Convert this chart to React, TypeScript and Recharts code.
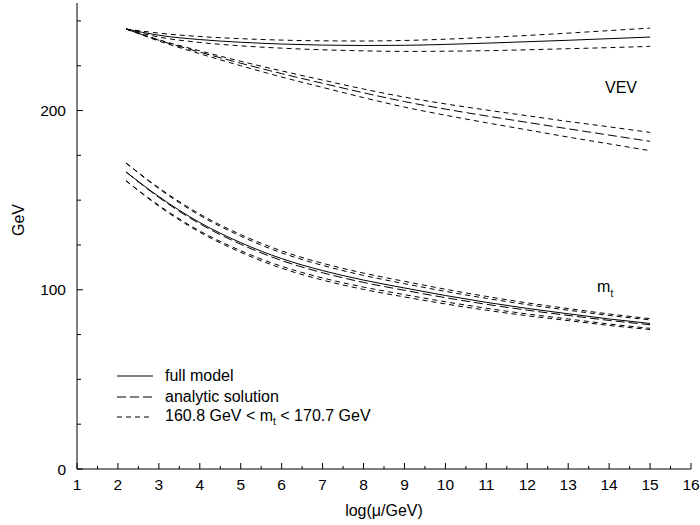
import { LineChart, Line, XAxis, YAxis, Legend, ReferenceDot, Label } from "recharts";

const FONT = "'Liberation Sans', Arial, Helvetica, sans-serif";

// log(mu/GeV) sample points
const logMu = [2.2, 3, 4, 5, 6, 7, 8, 9, 10, 11, 12, 13, 14, 15];

// VEV, full model and its m_t band
const vevFull = [245.5, 242.0, 239.6, 238.1, 237.1, 236.5, 236.3, 236.4, 236.9, 237.6, 238.4, 239.2, 240.1, 241.0];
const vevFullHi = [245.5, 243.2, 241.3, 240.1, 239.3, 238.9, 238.8, 239.1, 239.8, 240.8, 241.9, 243.2, 244.6, 246.0];
const vevFullLo = [245.5, 241.0, 238.0, 236.1, 234.8, 233.9, 233.3, 233.0, 233.1, 233.4, 233.9, 234.5, 235.1, 235.8];

// VEV, analytic solution and its m_t band
const vevAna = [245.5, 239.2, 232.6, 226.4, 220.6, 215.2, 209.9, 205.0, 200.8, 197.0, 193.4, 189.8, 186.3, 182.8];
const vevAnaHi = [245.5, 239.5, 233.3, 227.5, 222.1, 217.0, 212.0, 207.5, 203.7, 200.3, 197.1, 193.9, 190.9, 187.8];
const vevAnaLo = [245.5, 238.8, 231.7, 225.0, 218.7, 212.9, 207.2, 201.9, 197.4, 193.2, 189.2, 185.2, 181.4, 177.6];

// top mass
const mtFull = [165.7, 152.0, 137.5, 126.3, 117.4, 110.7, 105.4, 101.0, 96.8, 93.0, 89.6, 86.6, 83.7, 81.2];
const mtFullHi = [170.7, 156.9, 142.2, 130.8, 121.7, 114.8, 109.3, 104.7, 100.3, 96.3, 92.7, 89.5, 86.5, 83.9];
const mtFullLo = [160.8, 147.1, 132.8, 121.8, 113.1, 106.6, 101.5, 97.3, 93.3, 89.7, 86.5, 83.7, 80.9, 78.5];
const mtAna = [165.7, 151.5, 136.8, 125.4, 116.3, 109.5, 104.1, 99.7, 95.6, 91.9, 88.6, 85.7, 82.9, 80.5];
const mtAnaHi = [170.7, 156.4, 141.5, 129.9, 120.6, 113.6, 108.0, 103.4, 99.1, 95.2, 91.7, 88.6, 85.7, 83.2];
const mtAnaLo = [160.8, 146.6, 132.1, 120.9, 112.0, 105.4, 100.2, 96.0, 92.1, 88.6, 85.5, 82.8, 80.1, 77.8];

const xTicks = [1, 1.5, 2, 2.5, 3, 3.5, 4, 4.5, 5, 5.5, 6, 6.5, 7, 7.5, 8, 8.5, 9, 9.5, 10, 10.5, 11, 11.5, 12, 12.5, 13, 13.5, 14, 14.5, 15, 15.5, 16];
const yTicks = [0, 25, 50, 75, 100, 125, 150, 175, 200, 225, 250];
const yLabels = [0, 100, 200];

const SOLID = "";
const LONG = "9 4";
const SHORT = "5 4";

const series = [
  { key: "vevFull", dash: SOLID },
  { key: "vevFullHi", dash: SHORT },
  { key: "vevFullLo", dash: SHORT },
  { key: "vevAna", dash: LONG },
  { key: "vevAnaHi", dash: SHORT },
  { key: "vevAnaLo", dash: SHORT },
  { key: "mtFull", dash: SOLID },
  { key: "mtFullHi", dash: SHORT },
  { key: "mtFullLo", dash: SHORT },
  { key: "mtAna", dash: LONG },
  { key: "mtAnaHi", dash: SHORT },
  { key: "mtAnaLo", dash: SHORT },
];

const data = logMu.map((x, i) => ({
  x,
  vevFull: vevFull[i],
  vevFullHi: vevFullHi[i],
  vevFullLo: vevFullLo[i],
  vevAna: vevAna[i],
  vevAnaHi: vevAnaHi[i],
  vevAnaLo: vevAnaLo[i],
  mtFull: mtFull[i],
  mtFullHi: mtFullHi[i],
  mtFullLo: mtFullLo[i],
  mtAna: mtAna[i],
  mtAnaHi: mtAnaHi[i],
  mtAnaLo: mtAnaLo[i],
}));

const BottomTick = ({ x, y, payload }: any) => {
  const major = Number.isInteger(payload.value);
  return (
    <g>
      <line x1={x} y1={y} x2={x} y2={y - (major ? 6 : 3)} stroke="#000" />
      {major && (
        <text x={x} y={y + 15} textAnchor="middle" dominantBaseline="central" fontSize={15.5} fontFamily={FONT} fill="#000">
          {payload.value}
        </text>
      )}
    </g>
  );
};

const TopTick = ({ x, y, payload }: any) => {
  const major = Number.isInteger(payload.value);
  return <line x1={x} y1={y} x2={x} y2={y + (major ? 6 : 3)} stroke="#000" />;
};

const LeftTick = ({ x, y, payload }: any) => {
  const labeled = yLabels.includes(payload.value);
  return (
    <g>
      <line x1={x} y1={y} x2={x + (labeled ? 6 : 4)} y2={y} stroke="#000" />
      {labeled && (
        <text x={x - 11} y={y} textAnchor="end" dominantBaseline="central" fontSize={15.5} fontFamily={FONT} fill="#000">
          {payload.value}
        </text>
      )}
    </g>
  );
};

const RightTick = ({ x, y, payload }: any) => {
  const labeled = yLabels.includes(payload.value);
  return <line x1={x} y1={y} x2={x - (labeled ? 6 : 4)} y2={y} stroke="#000" />;
};

const legendItems = [
  { label: "full model", dash: SOLID },
  { label: "analytic solution", dash: LONG },
  { label: "mt", dash: SHORT },
];

const renderLegend = () => (
  <div style={{ fontFamily: FONT, fontSize: 16, color: "#000" }}>
    {legendItems.map((item) => (
      <div key={item.label} style={{ display: "flex", alignItems: "center", height: 20.5 }}>
        <svg width={36} height={4} style={{ display: "block" }}>
          <line x1={0} y1={2} x2={36} y2={2} stroke="#000" strokeDasharray={item.dash || undefined} />
        </svg>
        <span style={{ marginLeft: 12, whiteSpace: "nowrap" }}>
          {item.label === "mt" ? (
            <>
              160.8 GeV &lt; m<sub style={{ fontSize: 10 }}>t</sub> &lt; 170.7 GeV
            </>
          ) : (
            item.label
          )}
        </span>
      </div>
    ))}
  </div>
);

export default function App() {
  return (
    <div style={{ position: "absolute", left: 0, top: 0, width: 700, height: 525, background: "#fff" }}>
      <LineChart width={700} height={525} data={data} margin={{ top: 3, right: 9, bottom: 0, left: 0 }}>
        <XAxis
          xAxisId="bottom"
          dataKey="x"
          type="number"
          domain={[1, 16]}
          ticks={xTicks}
          interval={0}
          height={56}
          tickSize={0}
          tickMargin={0}
          tickLine={false}
          tick={<BottomTick />}
          axisLine={{ stroke: "#000" }}
        >
          <Label
            content={({ viewBox }: any) => (
              <text
                x={viewBox.x + viewBox.width / 2}
                y={viewBox.y + 41}
                textAnchor="middle"
                dominantBaseline="central"
                fontSize={16}
                fontFamily={FONT}
                fill="#000"
              >
                log(μ/GeV)
              </text>
            )}
          />
        </XAxis>
        <XAxis
          xAxisId="top"
          orientation="top"
          dataKey="x"
          type="number"
          domain={[1, 16]}
          ticks={xTicks}
          interval={0}
          height={0}
          tickSize={0}
          tickMargin={0}
          tickLine={false}
          tick={<TopTick />}
          axisLine={{ stroke: "#000" }}
        />
        <YAxis
          yAxisId="left"
          type="number"
          domain={[0, 260]}
          ticks={yTicks}
          interval={0}
          width={77}
          tickSize={0}
          tickMargin={0}
          tickLine={false}
          tick={<LeftTick />}
          axisLine={{ stroke: "#000" }}
        >
          <Label
            content={({ viewBox }: any) => (
              <text
                x={viewBox.x + 18}
                y={viewBox.y + 217}
                textAnchor="middle"
                dominantBaseline="central"
                fontSize={16}
                fontFamily={FONT}
                fill="#000"
                transform={`rotate(-90, ${viewBox.x + 18}, ${viewBox.y + 217})`}
              >
                GeV
              </text>
            )}
          />
        </YAxis>
        <YAxis
          yAxisId="right"
          orientation="right"
          type="number"
          domain={[0, 260]}
          ticks={yTicks}
          interval={0}
          width={0}
          tickSize={0}
          tickMargin={0}
          tickLine={false}
          tick={<RightTick />}
          axisLine={{ stroke: "#000" }}
        />
        {series.map((s) => (
          <Line
            key={s.key}
            xAxisId="bottom"
            yAxisId="left"
            dataKey={s.key}
            type="monotone"
            stroke="#000"
            strokeWidth={1}
            strokeDasharray={s.dash || undefined}
            dot={false}
            activeDot={false}
            isAnimationActive={false}
          />
        ))}
        <ReferenceDot
          xAxisId="bottom"
          yAxisId="left"
          x={14.29}
          y={212.7}
          r={1}
          fill="none"
          stroke="none"
          label={(props: any) => (
            <text x={props.viewBox.x + props.viewBox.width / 2} y={props.viewBox.y + props.viewBox.height / 2} textAnchor="middle" dominantBaseline="central" fontSize={16} fontFamily={FONT} fill="#000">
              VEV
            </text>
          )}
        />
        <ReferenceDot
          xAxisId="bottom"
          yAxisId="left"
          x={13.73}
          y={101.6}
          r={1}
          fill="none"
          stroke="none"
          label={(props: any) => (
            <text x={props.viewBox.x} y={props.viewBox.y + props.viewBox.height / 2} textAnchor="start" dominantBaseline="central" fontSize={16} fontFamily={FONT} fill="#000">
              m
              <tspan fontSize={10} dy={6}>t</tspan>
            </text>
          )}
        />
        <Legend
          layout="vertical"
          align="center"
          verticalAlign="middle"
          content={renderLegend}
          wrapperStyle={{ left: 117, top: 366, width: "auto" }}
        />
      </LineChart>
    </div>
  );
}
